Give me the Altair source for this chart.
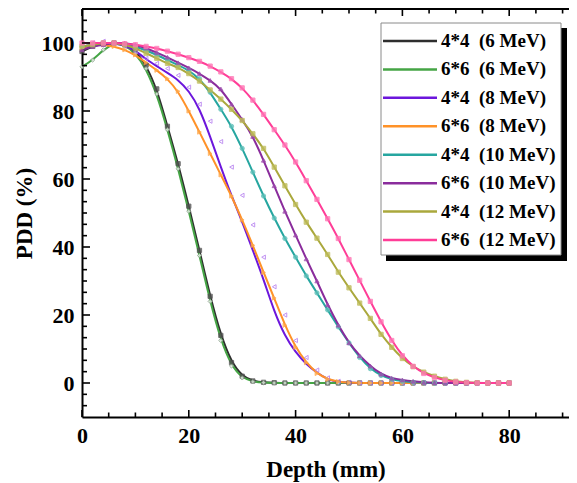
import altair as alt
import pandas as pd

# ---------------- data ----------------
names = ["4*4\u00a0 (6 MeV)", "6*6\u00a0 (6 MeV)", "4*4\u00a0 (8 MeV)", "6*6\u00a0 (8 MeV)",
         "4*4\u00a0 (10 MeV)", "6*6\u00a0 (10 MeV)", "4*4\u00a0 (12 MeV)", "6*6\u00a0 (12 MeV)"]
line_colors = ["#2e2e2e", "#45a545", "#6c16dc", "#ff9228", "#26a6a0", "#8a2c9c", "#aaa83c", "#ff3d97"]

depth = [0, 2, 4, 6, 8, 10, 12, 14, 16, 18, 20, 22, 24, 26, 28, 30, 32, 34, 36, 38, 40,
         42, 44, 46, 48, 50, 52, 54, 56, 58, 60, 62, 64, 66, 68, 70, 72, 74, 76, 78, 80]

pdd_4x4_6 = [97.5, 99, 99.8, 100, 99.5, 97.8, 93.5, 86.5, 75.5, 64.5, 52, 39, 25.5, 14, 6, 2, 0.6, 0.2, 0.1,
             0, 0, 0, 0, 0, 0, 0, 0, 0, 0, 0, 0, 0, 0, 0, 0, 0, 0, 0, 0, 0, 0]
pdd_6x6_6 = [93, 95, 98, 100, 99.5, 97, 92.5, 85, 74.5, 63, 50.5, 37.5, 24, 12.5, 5, 1.5, 0.4, 0.1,
             0, 0, 0, 0, 0, 0, 0, 0, 0, 0, 0, 0, 0, 0, 0, 0, 0, 0, 0, 0, 0, 0, 0]
pdd_4x4_8 = [99, 99.5, 100, 100, 99.3, 97.8, 95.2, 93.2, 91.2, 89.2, 86, 80.8, 72.5, 63.5, 55, 47.5, 39, 30.5,
             21, 13.8, 9, 5.5, 3, 1, 0.3, 0.1, 0, 0, 0, 0, 0, 0, 0, 0, 0, 0, 0, 0, 0, 0, 0]
pdd_6x6_8 = [98.5, 99.5, 99.5, 99, 98, 96.5, 94.2, 92, 89.5, 85.8, 80, 73.8, 67.5, 61.2, 55, 48, 40.5, 32.5,
             25, 17, 10.5, 6, 2.8, 1.1, 0.4, 0.1, 0, 0, 0, 0, 0, 0, 0, 0, 0, 0, 0, 0, 0, 0, 0]
pdd_4x4_10 = [99, 99.5, 100, 100, 99.5, 99, 97.8, 96.5, 95, 93.5, 92, 89.5, 85.5, 80.5, 75.5, 69, 62, 55,
              48.5, 42.5, 37, 31.5, 26.5, 21.5, 16.5, 11.8, 7.5, 4.2, 2.2, 1.1, 0.5, 0.2, 0.1,
              0, 0, 0, 0, 0, 0, 0, 0]
pdd_6x6_10 = [98, 99, 99.5, 100, 100, 99.5, 98.5, 97.2, 95.8, 94.2, 92.7, 91, 89, 86.5, 82, 77.5, 72.5, 65.5,
              58, 50.5, 43.5, 36.5, 30, 23, 17, 11.8, 8, 5, 2.6, 1.4, 0.9, 0.5, 0.2, 0.1,
              0, 0, 0, 0, 0, 0, 0]
pdd_4x4_12 = [99, 99.5, 100, 100, 99.5, 98.5, 97, 95.5, 94, 92.8, 91, 88.8, 86.2, 83.5, 80.5, 77.2, 73.3, 69,
              63.5, 58, 52.5, 47.3, 42.6, 37.8, 32.6, 28, 23.5, 19, 14.3, 10.5, 7.2, 4.8, 3.2, 2, 1.1,
              0.5, 0.2, 0.1, 0, 0, 0]
pdd_6x6_12 = [100, 100, 100, 100, 99.8, 99.5, 99, 98.4, 97.6, 96.7, 95.7, 94.6, 93.2, 91.5, 89.5, 86.8, 83.2,
              79, 74.5, 70, 65, 59.5, 54, 48.3, 42.5, 36.3, 30.2, 24, 18, 12.5, 8, 4.9, 2.8, 1.6, 0.8,
              0.3, 0.1, 0, 0, 0, 0]
# measured points of 4*4 (8 MeV), which sit to the right of its fitted curve
meas_4x4_8 = [99, 100, 100.5, 100, 99, 97.5, 95.5, 94, 92.5, 90.5, 87, 82, 77, 71, 63.5, 55.2, 46.5, 37,
              28.3, 20, 12.5, 7.5, 3.8, 1.5, 0.5, 0.2, 0, 0, 0, 0, 0, 0, 0, 0, 0, 0, 0, 0, 0, 0, 0]

fits = [pdd_4x4_6, pdd_6x6_6, pdd_4x4_8, pdd_6x6_8, pdd_4x4_10, pdd_6x6_10, pdd_4x4_12, pdd_6x6_12]
measured = [pdd_4x4_6, pdd_6x6_6, meas_4x4_8, pdd_6x6_8, pdd_4x4_10, pdd_6x6_10, pdd_4x4_12, pdd_6x6_12]

marker_shapes = ["square", "diamond", "triangle-left", "triangle-right", "circle", "triangle-up", "square", "square"]
marker_fills = ["#505050", "#e4eee4", "transparent", "#ffa748", "#5cbfb8", "#9c4aac", "#bdbb58", "#ff74b4"]
marker_strokes = ["#505050", "#8aa08a", "#b37af0", "#ffa748", "#5cbfb8", "#9c4aac", "#bdbb58", "#ff74b4"]

x_major = [0, 20, 40, 60, 80]
x_minor = [5, 10, 15, 25, 30, 35, 45, 50, 55, 65, 70, 75, 85, 90]
y_major = [0, 20, 40, 60, 80, 100]
y_minor = [-6.667, -3.333, 3.333, 6.667, 10, 13.333, 16.667, 23.333, 26.667, 30, 33.333, 36.667,
           43.333, 46.667, 50, 53.333, 56.667, 63.333, 66.667, 70, 73.333, 76.667, 83.333, 86.667,
           90, 93.333, 96.667, 103.333, 106.667]

# ---------------- tables ----------------
rows = []
for i, n in enumerate(names):
    for k, d in enumerate(depth):
        rows.append({"depth": d, "pdd": fits[i][k], "series": n, "idx": i})
fit_df = pd.DataFrame(rows)

mrows = []
for i, n in enumerate(names):
    for k, d in enumerate(depth):
        mrows.append({"depth": d, "pdd": measured[i][k], "series": n,
                      "shape": marker_shapes[i], "fill": marker_fills[i], "stroke": marker_strokes[i]})
meas_df = pd.DataFrame(mrows)

leg_df = pd.DataFrame({"series": names, "col": line_colors})

W, H = 487, 408
FONT = "Liberation Serif"
xs = alt.Scale(domain=[0, 91.2], nice=False, zero=False)
ys = alt.Scale(domain=[-10, 110], nice=False, zero=False)

lines = alt.Chart(fit_df).mark_line(strokeWidth=2, interpolate="basis").encode(
    x=alt.X("depth:Q", scale=xs,
            axis=alt.Axis(values=x_major, title="Depth (mm)", ticks=False, tickSize=0, grid=False,
                          labelFlush=False, labelPadding=8, titlePadding=12,
                          domainWidth=2, domainColor="black")),
    y=alt.Y("pdd:Q", scale=ys,
            axis=alt.Axis(values=y_major, title="PDD (%)", ticks=False, tickSize=0, grid=False,
                          labelFlush=False, labelPadding=8, titlePadding=5,
                          domainWidth=2, domainColor="black")),
    color=alt.Color("series:N", scale=alt.Scale(domain=names, range=line_colors), legend=None),
    detail="series:N",
)

points = alt.Chart(meas_df).mark_point(size=18, strokeWidth=1, opacity=0.8).encode(
    x=alt.X("depth:Q", scale=xs),
    y=alt.Y("pdd:Q", scale=ys),
    shape=alt.Shape("shape:N", scale=None),
    fill=alt.Fill("fill:N", scale=None),
    stroke=alt.Stroke("stroke:N", scale=None),
)

def xticks(vals, length):
    d = pd.DataFrame({"v": vals})
    bottom = alt.Chart(d).mark_rule(strokeWidth=1.6, color="black").encode(
        x=alt.X("v:Q", scale=xs), y=alt.value(H), y2=alt.value(H - length))
    top = alt.Chart(d).mark_rule(strokeWidth=1.6, color="black").encode(
        x=alt.X("v:Q", scale=xs), y=alt.value(0), y2=alt.value(length))
    return bottom + top

def yticks(vals, length):
    d = pd.DataFrame({"v": vals})
    return alt.Chart(d).mark_rule(strokeWidth=1.6, color="black").encode(
        y=alt.Y("v:Q", scale=ys), x=alt.value(0), x2=alt.value(length))

dummy = pd.DataFrame({"a": [0]})
top_line = alt.Chart(dummy).mark_rule(strokeWidth=2, color="black").encode(
    x=alt.value(0), x2=alt.value(W), y=alt.value(0))

main = alt.layer(lines, points, xticks(x_major, 7), xticks(x_minor, 4.5),
                 yticks(y_major, 8), yticks(y_minor, 5), top_line)

# legend box with drop shadow
shadow = alt.Chart(dummy).mark_rect(color="black").encode(
    x=alt.value(304), x2=alt.value(485), y=alt.value(19), y2=alt.value(252))
box = alt.Chart(dummy).mark_rect(fill="white", stroke="#8a8a8a", strokeWidth=1).encode(
    x=alt.value(299), x2=alt.value(479), y=alt.value(14), y2=alt.value(246))
leg_y = alt.Y("series:N", sort=names, scale=alt.Scale(type="point", range=[32, 231], padding=0), axis=None)
leg_lines = alt.Chart(leg_df).mark_rule(strokeWidth=2.5).encode(
    x=alt.value(301), x2=alt.value(355), y=leg_y, stroke=alt.Stroke("col:N", scale=None))
leg_text = alt.Chart(leg_df).mark_text(align="left", baseline="middle", font=FONT, fontSize=19,
                                       fontWeight="bold", color="black").encode(
    x=alt.value(359), y=leg_y, text="series:N")
legend = alt.layer(shadow, box, leg_lines, leg_text)

chart = alt.layer(main, legend).resolve_scale(y="independent").properties(
    width=W, height=H,
    padding={"left": 74, "top": 1, "right": 0, "bottom": 66},
    autosize=alt.AutoSizeParams(type="none"),
).configure_view(stroke=None).configure_axis(
    labelFont=FONT, labelFontSize=22, labelFontWeight="bold", labelColor="black",
    titleFont=FONT, titleFontSize=23, titleFontWeight="bold", titleColor="black",
)

chart.save("out.html", embed_options={"renderer": "svg", "actions": False})
